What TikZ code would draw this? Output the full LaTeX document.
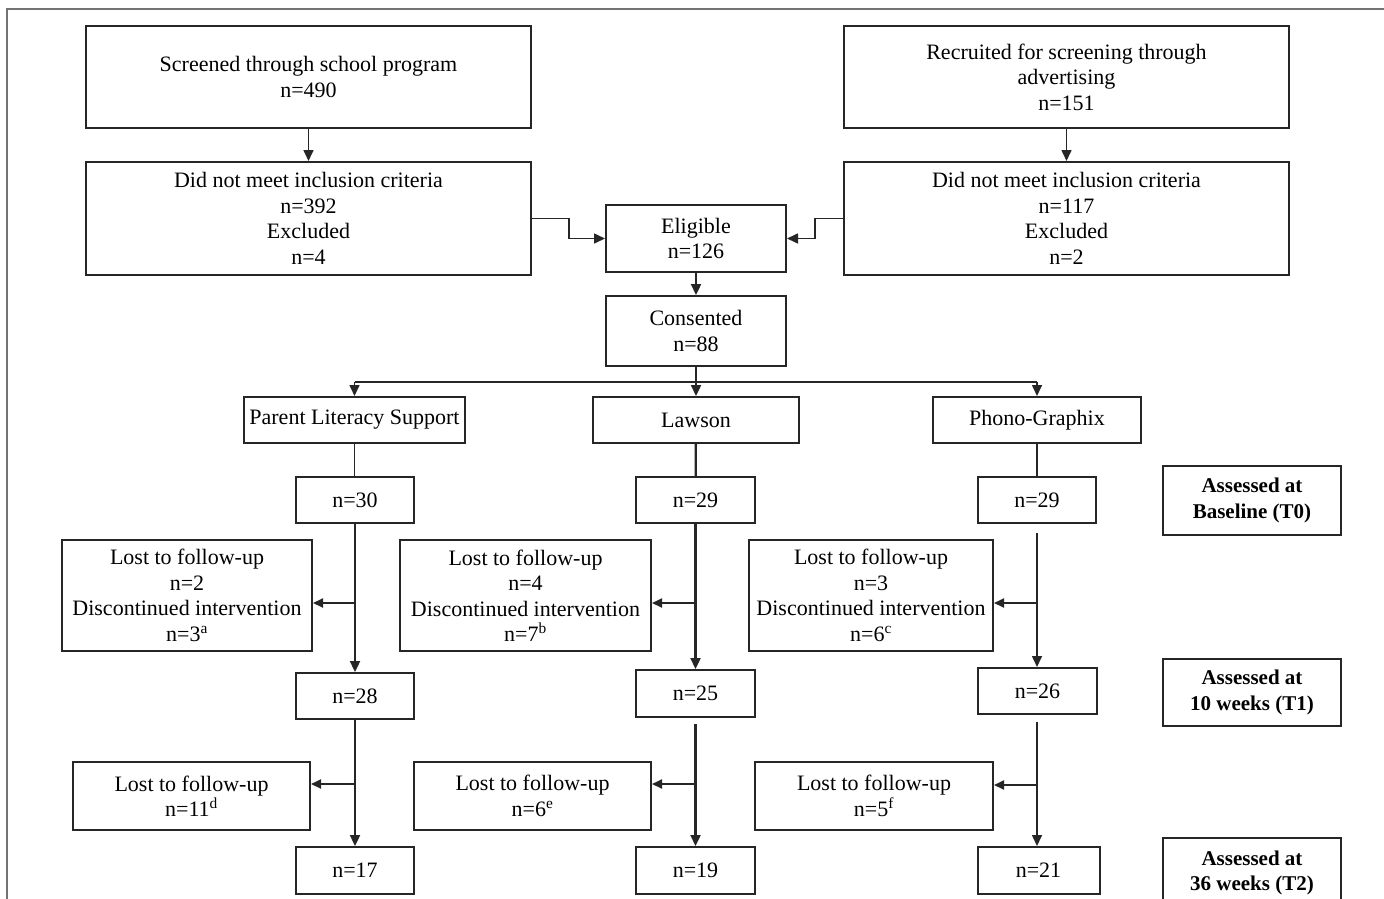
\documentclass[tikz,border=0pt]{standalone}
\usepackage{fontspec}
\setmainfont{Liberation Serif}
\usetikzlibrary{arrows.meta,calc}
\begin{document}
\begin{tikzpicture}[x=1pt,y=-1pt,
 box/.style={draw=black!85,line width=2pt,fill=white,inner sep=0pt,align=center,font=\fontsize{22}{25.5}\selectfont},
 abox/.style={box,font=\bfseries\fontsize{21}{25.5}\selectfont},
 arr/.style={line width=2.3pt,draw=black!85,-{Triangle[length=11pt,width=10pt]}},
 marr/.style={line width=1.6pt,draw=black!85,-{Triangle[length=11pt,width=10pt]}},
 sarr/.style={line width=2pt,draw=black!85,-{Triangle[length=10pt,width=9pt]}},
 thinline/.style={line width=1.2pt,draw=black!85},
]
\useasboundingbox (0,0) rectangle (1384,899);
\clip (0,0) rectangle (1384,899);
\draw[black!55,line width=1.8pt] (7,905) -- (7,9) -- (1390,9);

% top boxes
\node[box,minimum width=445pt,minimum height=102pt] (scr) at (308.5,77) {Screened through school program\\n=490};
\node[box,minimum width=445pt,minimum height=102pt] (rec) at (1066.5,77) {Recruited for screening through\\advertising\\n=151};
\node[box,minimum width=445pt,minimum height=113pt] (dnl) at (308.5,218.5) {Did not meet inclusion criteria\\n=392\\Excluded\\n=4};
\node[box,minimum width=445pt,minimum height=113pt] (dnr) at (1066.5,218.5) {Did not meet inclusion criteria\\n=117\\Excluded\\n=2};
\node[box,minimum width=180pt,minimum height=67pt] (eli) at (696,238.5) {Eligible\\n=126};
\node[box,minimum width=180pt,minimum height=70pt] (con) at (696,331) {Consented\\n=88};

% arms
\node[box,minimum width=221pt,minimum height=46pt] (pls) at (354.5,420) {Parent Literacy Support};
\node[box,minimum width=206pt,minimum height=46pt] (law) at (696,420) {Lawson};
\node[box,minimum width=208pt,minimum height=46pt] (pho) at (1037,420) {Phono-Graphix};

% baseline
\node[box,minimum width=118pt,minimum height=46pt] (a30) at (355,500) {n=30};
\node[box,minimum width=119pt,minimum height=46pt] (b29) at (695.5,500) {n=29};
\node[box,minimum width=118pt,minimum height=46pt] (c29) at (1037,500) {n=29};
\node[abox,minimum width=178pt,minimum height=69pt] (asb) at (1252,500.5) {Assessed at\\Baseline (T0)};

% lost 1
\node[box,minimum width=250pt,minimum height=111pt] (la1) at (187,595.5) {Lost to follow-up\\n=2\\Discontinued intervention\\n=3\textsuperscript{a}};
\node[box,minimum width=251pt,minimum height=111pt] (lb1) at (525.5,595.5) {Lost to follow-up\\n=4\\Discontinued intervention\\n=7\textsuperscript{b}};
\node[box,minimum width=244pt,minimum height=111pt] (lc1) at (871,595.5) {Lost to follow-up\\n=3\\Discontinued intervention\\n=6\textsuperscript{c}};

% 10 weeks
\node[box,minimum width=118pt,minimum height=46pt] (a28) at (355,696) {n=28};
\node[box,minimum width=119pt,minimum height=47pt] (b25) at (695.5,693.5) {n=25};
\node[box,minimum width=119pt,minimum height=46pt] (c26) at (1037.5,691) {n=26};
\node[abox,minimum width=178pt,minimum height=67pt] (as10) at (1252,692.5) {Assessed at\\10 weeks (T1)};

% lost 2
\node[box,minimum width=237pt,minimum height=68pt] (la2) at (191.5,796) {Lost to follow-up\\n=11\textsuperscript{d}};
\node[box,minimum width=237pt,minimum height=68pt] (lb2) at (532.5,796) {Lost to follow-up\\n=6\textsuperscript{e}};
\node[box,minimum width=238pt,minimum height=68pt] (lc2) at (874,796) {Lost to follow-up\\n=5\textsuperscript{f}};

% 36 weeks
\node[box,minimum width=118pt,minimum height=47pt] (a17) at (355,870.5) {n=17};
\node[box,minimum width=119pt,minimum height=47pt] (b19) at (695.5,870.5) {n=19};
\node[box,minimum width=122pt,minimum height=47pt] (c21) at (1038.5,870.5) {n=21};
\node[abox,minimum width=178pt,minimum height=70pt,anchor=north] (as36) at (1252,837) {Assessed at\\36 weeks (T2)};

% connectors top
\draw[marr] (scr) -- (dnl);
\draw[marr] (rec) -- (dnr);
\draw[marr] (dnl.east) -| (569,238.5) -- (eli.west);
\draw[marr] (dnr.west) -| (815,238.5) -- (eli.east);
\draw[arr] (eli) -- (con);
\draw[arr] (con) -- (law);
\coordinate (br) at (696,382);
\draw[line width=1.6pt,black!85] (pls.north |- br) -- (pho.north |- br);
\draw[marr] (pls.north |- br) -- (pls.north);
\draw[marr] (pho.north |- br) -- (pho.north);

% arm to baseline
\draw[thinline] (pls.south) -- (pls.south |- a30.north);
\draw[line width=2.3pt,black!85] (law) -- (b29);
\draw[thinline] (pho.south) -- (pho.south |- c29.north);

% left column
\draw[arr] (a30) -- (a28);
\draw[sarr] (a30.south |- 0,603) -- (la1.east |- 0,603);
\draw[arr] (a28) -- (a17);
\draw[sarr] (a28.south |- 0,784) -- (la2.east |- 0,784);

% middle column
\draw[arr] (b29) -- (b25);
\draw[sarr] (b29.south |- 0,603) -- (lb1.east |- 0,603);
\draw[arr] ([yshift=-6pt]b25.south) -- (b19.north);
\draw[sarr] (b25.south |- 0,784) -- (lb2.east |- 0,784);

% right column
\draw[marr] ([yshift=-9pt]c29.south) -- (c29.south |- c26.north);
\draw[sarr] (c29.south |- 0,603) -- (lc1.east |- 0,603);
\draw[marr] ([yshift=-7pt]c29.south |- c26.south) -- (c29.south |- c21.north);
\draw[sarr] (c29.south |- 0,785) -- (lc2.east |- 0,785);
\end{tikzpicture}
\end{document}
